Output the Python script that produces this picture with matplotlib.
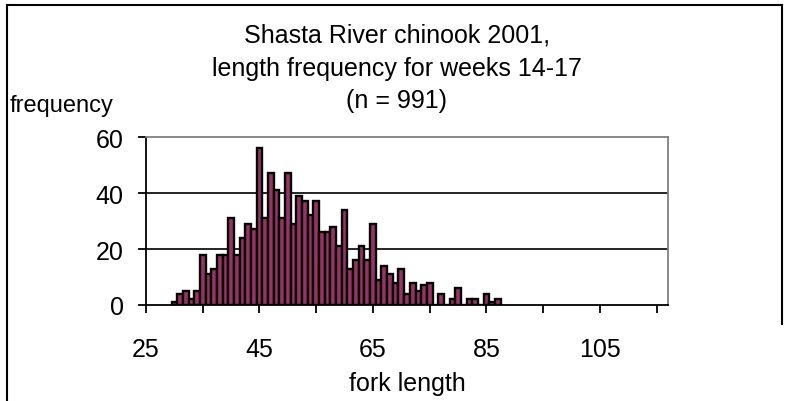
import numpy as np
import matplotlib
matplotlib.use("Agg")
import matplotlib.pyplot as plt
from matplotlib.lines import Line2D

plt.rcParams['font.family'] = ['Liberation Sans', 'DejaVu Sans']

# fork length (mm) and number of fish in each 1 mm class
fork_length = list(range(30, 88))
frequency = [1, 4, 5, 2, 5, 18, 11, 13, 18, 18,
             31, 18, 24, 29, 27, 56, 31, 47, 41, 31,
             47, 29, 39, 37, 32, 37, 26, 26, 28, 21,
             34, 13, 16, 21, 16, 29, 9, 14, 11, 8,
             13, 4, 8, 5, 7, 8, 0, 4, 0, 2,
             6, 0, 2, 2, 0, 4, 1, 2]

title = "Shasta River chinook 2001,\nlength frequency for weeks 14-17\n(n = 991)"
x_major = [25, 45, 65, 85, 105]
x_minor = [35, 55, 75, 95, 115]
y_ticks = [0, 20, 40, 60]

W, H = 793, 402
fig = plt.figure(figsize=(W / 100, H / 100), dpi=100)
ax = fig.add_axes([146 / W, 1 - 306 / H, (668 - 146) / W, (306 - 138) / H])

ax.bar(fork_length, frequency, width=1.0, color='#993366',
       edgecolor='black', linewidth=1.7, zorder=2)

for yv in y_ticks[1:-1]:
    ax.axhline(yv, color='black', lw=1.2, zorder=1)

ax.set_xlim(25, 117)
ax.set_ylim(0, 60)
ax.set_xticks(x_major)
ax.set_xticks(x_minor, minor=True)
ax.set_yticks(y_ticks)
ax.tick_params(axis='both', which='both', direction='out', length=6,
               width=1.3, color='black', labelsize=18)
ax.tick_params(axis='x', which='major', pad=17)
ax.tick_params(axis='y', pad=10)

for s in ['left', 'bottom']:
    ax.spines[s].set_color('black')
    ax.spines[s].set_linewidth(1.3)
for s in ['top', 'right']:
    ax.spines[s].set_color('#808080')
    ax.spines[s].set_linewidth(1.3)

ax.set_xlabel("fork length", fontsize=18, labelpad=7)
fig.text(0.5, 1 - 24 / H, title, ha='center', va='top', fontsize=18,
         linespacing=1.45)
fig.text(10 / W, 1 - 112 / H, "frequency", ha='left', va='baseline',
         fontsize=17)

# chart area border (cropped)
fig.add_artist(Line2D([7 / W, 7 / W], [0, 1 - 6 / H], color='black', lw=1.5))
fig.add_artist(Line2D([7 / W, 782 / W], [1 - 6 / H, 1 - 6 / H], color='black', lw=1.5))
fig.add_artist(Line2D([782 / W, 782 / W], [1 - 6 / H, 1 - 325 / H], color='black', lw=1.5))

fig.savefig("out.png", dpi=100)
